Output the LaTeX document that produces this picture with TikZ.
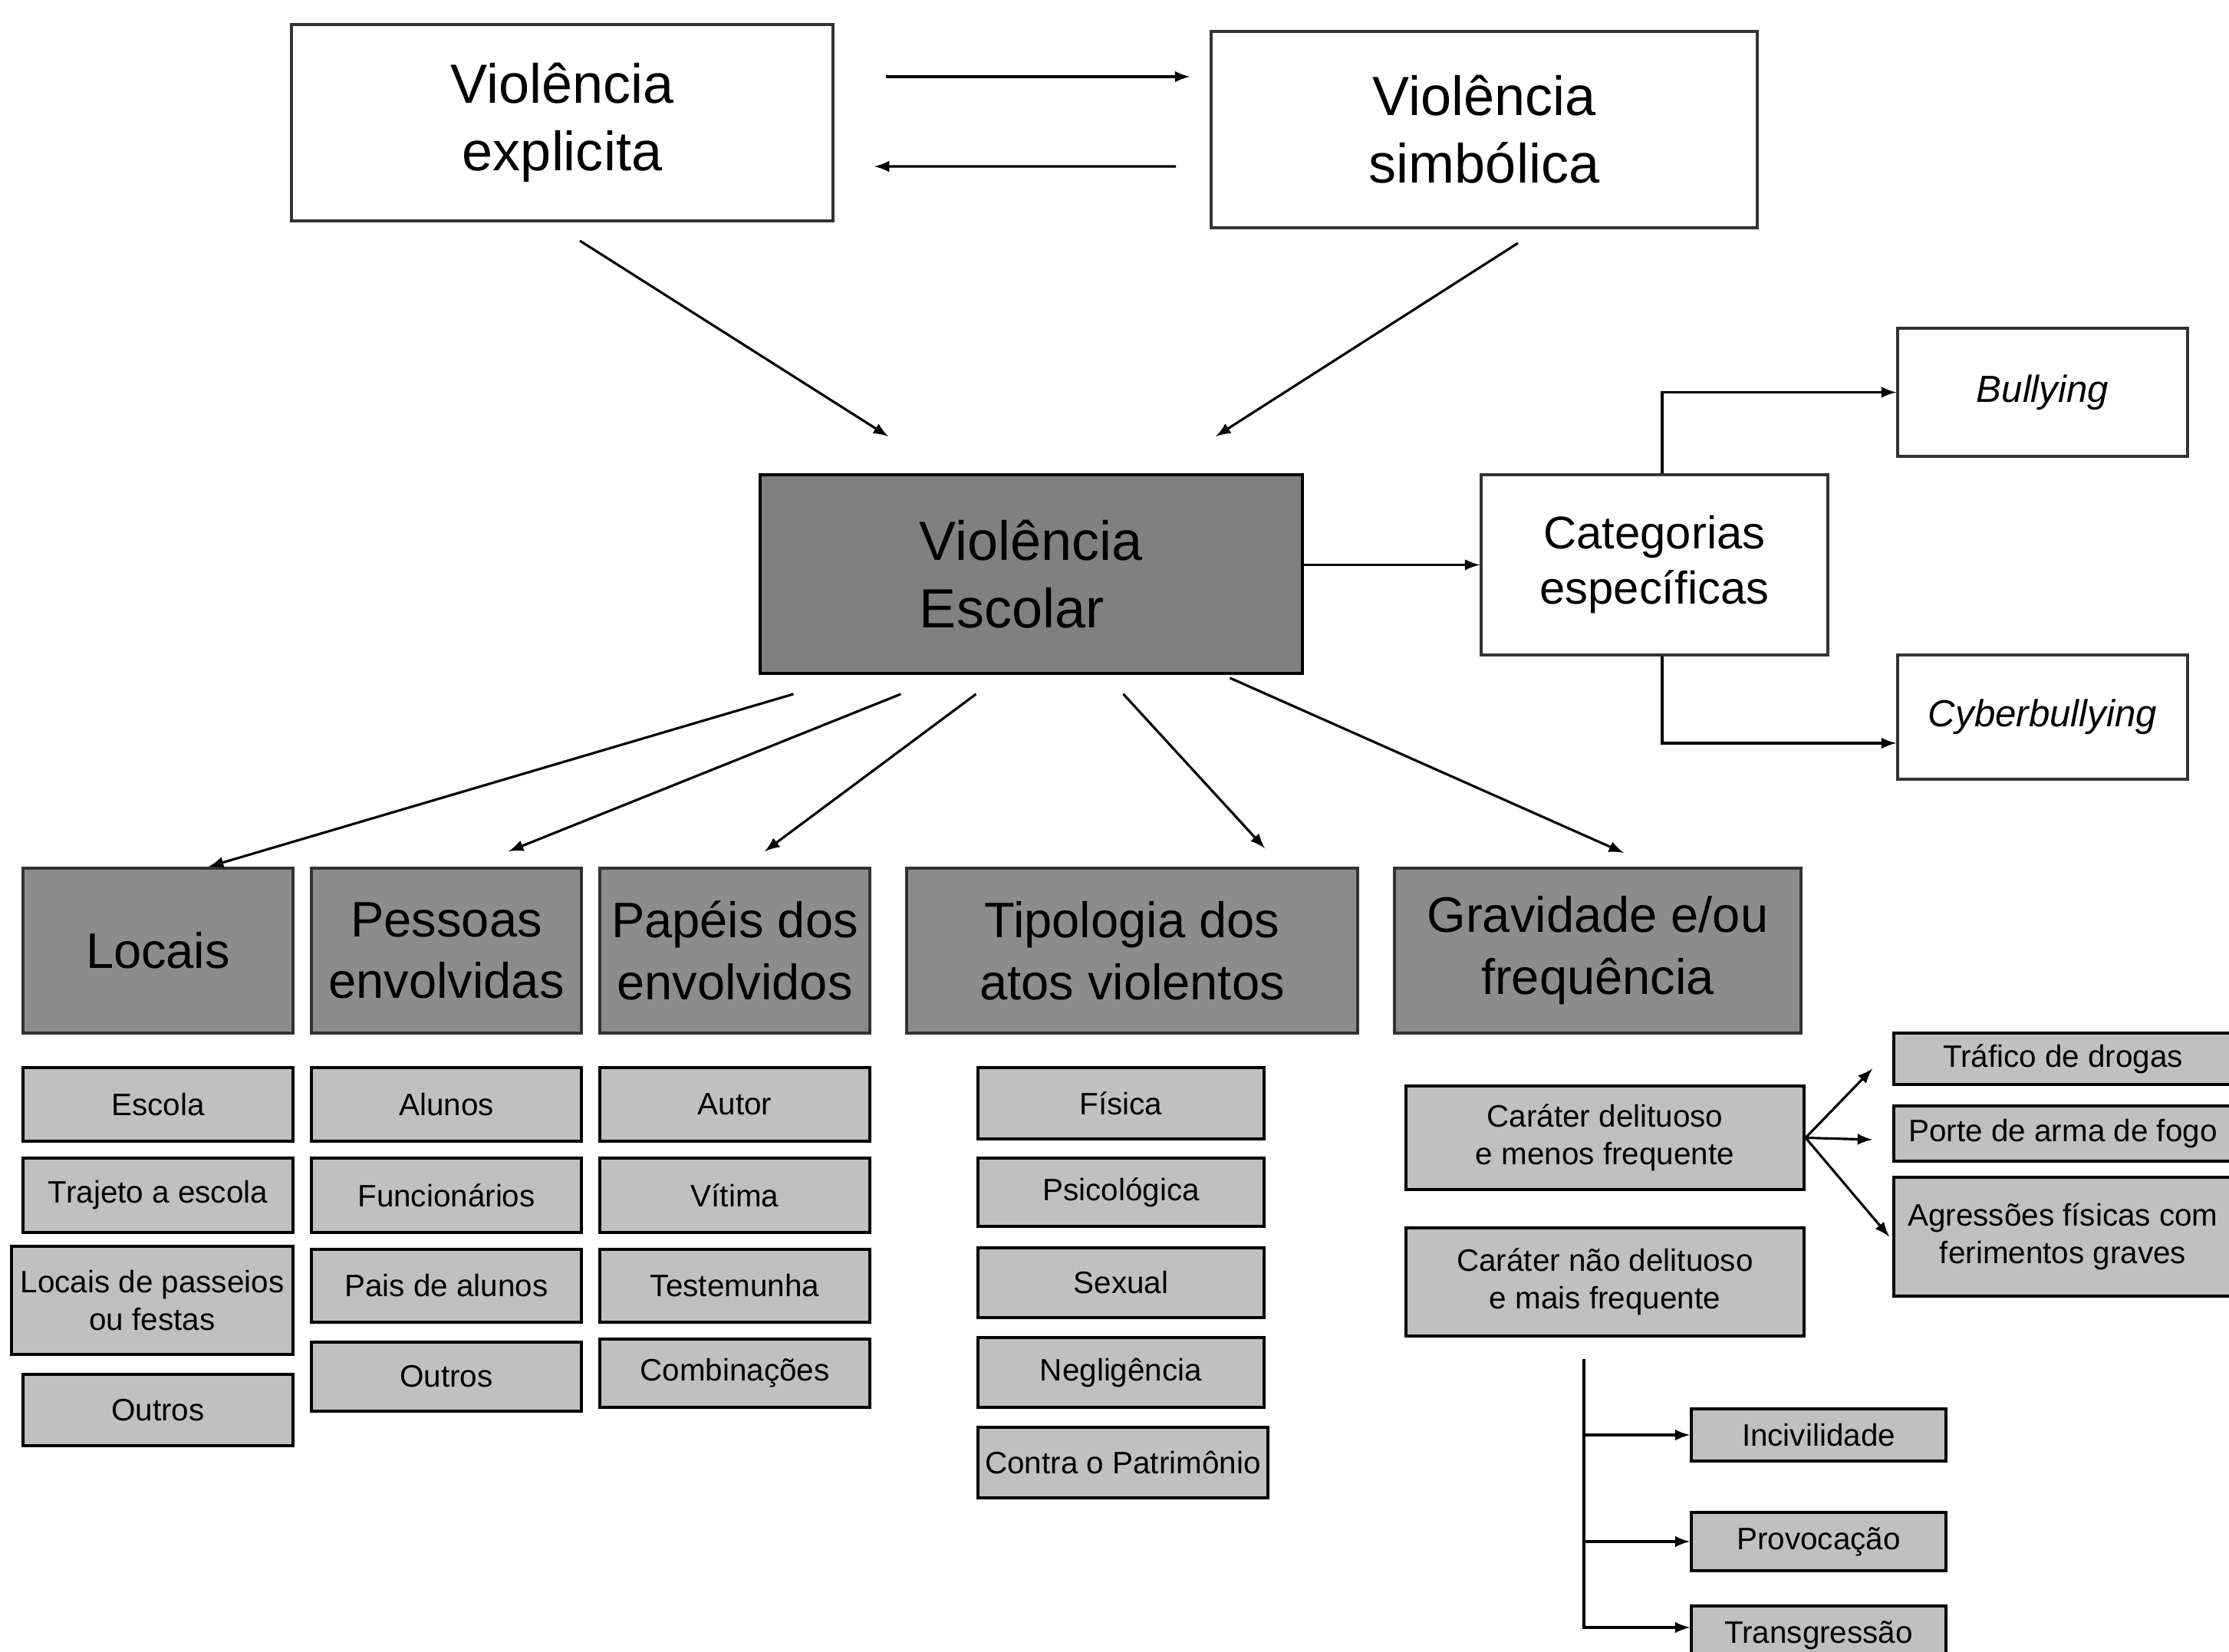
\documentclass[tikz,border=0pt]{standalone}
\usepackage{fontspec}
\setmainfont{Liberation Sans}
\usepackage{tikz}
\usetikzlibrary{arrows}

\definecolor{cinzaescuro}{HTML}{808080}
\definecolor{cinzamedio}{HTML}{8C8C8C}
\definecolor{cinzaclaro}{HTML}{C0C0C0}
\definecolor{borda}{HTML}{333333}

\tikzset{
	caixa/.style={shape=rectangle, draw=borda, line width=1.1pt, align=center, inner sep=0pt},
	branca/.style={caixa, fill=white},
	central/.style={caixa, draw=black, fill=cinzaescuro, minimum width=7.07cm, minimum height=2.59cm, font=\fontsize{20.5}{25}\selectfont},
	titulo/.style={caixa, fill=cinzamedio, minimum height=2.15cm, font=\fontsize{18.5}{23}\selectfont},
	item/.style={caixa, draw=black, fill=cinzaclaro, font=\fontsize{11.5}{14}\selectfont},
	seta/.style={-latex, line width=0.9pt}
}

\begin{document}
\begin{tikzpicture}
		\useasboundingbox (0,0) rectangle (29.06,-21.54);
		% Topo e centro:
		\node[branca, minimum width=7.06cm, minimum height=2.56cm, font=\fontsize{20.5}{25}\selectfont](Expl) at (7.33,-1.60){Violência\\explicita};
		\node[branca, minimum width=7.12cm, minimum height=2.56cm, font=\fontsize{20.5}{25}\selectfont](Simb) at (19.35,-1.69){Violência\\simbólica};
		\node[central, align=left](Esc) at (13.445,-7.485){Violência\\Escolar};
		\node[branca, minimum width=4.52cm, minimum height=2.35cm, font=\fontsize{17}{20.5}\selectfont](Cat) at (21.57,-7.365){Categorias\\específicas};
		\node[branca, minimum width=3.78cm, minimum height=1.67cm, font=\fontsize{14}{17}\selectfont\itshape](Bul) at (26.63,-5.115){Bullying};
		\node[branca, minimum width=3.78cm, minimum height=1.62cm, font=\fontsize{14}{17}\selectfont\itshape](Cyb) at (26.63,-9.35){Cyberbullying};
		\draw[seta] ([shift={(0.67,0.6)}]Expl.east) -- ([shift={(-0.26,0.69)}]Simb.west);
		\draw[seta] ([shift={(-0.44,-0.48)}]Simb.west) -- ([shift={(0.52,-0.57)}]Expl.east);
		\draw[seta] ([shift={(0.23,-0.24)}]Expl.south) -- ([shift={(-1.865,0.48)}]Esc.north);
		\draw[seta] ([shift={(0.44,-0.18)}]Simb.south) -- ([shift={(2.405,0.48)}]Esc.north);
		\draw[seta] (Esc.east |- Cat.west) -- (Cat.west);
		\draw[seta] ([xshift=0.1cm]Cat.north) |- (Bul.west);
		\draw[seta] ([xshift=0.1cm]Cat.south) |- ([yshift=-0.34cm]Cyb.west);
		% Dimensoes:
		\node[titulo, minimum width=3.52cm](Loc) at (2.06,-12.395){Locais};
		\node[titulo, minimum width=3.52cm](Pes) at (5.82,-12.395){Pessoas\\envolvidas};
		\node[titulo, minimum width=3.52cm](Pap) at (9.58,-12.395){Papéis dos\\envolvidos};
		\node[titulo, minimum width=5.88cm](Tip) at (14.76,-12.395){Tipologia dos\\atos violentos};
		\node[titulo, minimum width=5.30cm](Grav) at (20.83,-12.395){Gravidade e/ou\\frequência};
		\draw[seta] ([shift={(-3.1,-0.25)}]Esc.south) -- ([shift={(0.66,0)}]Loc.north);
		\draw[seta] ([shift={(-1.7,-0.25)}]Esc.south) -- ([shift={(0.81,0.2)}]Pes.north);
		\draw[seta] ([shift={(-0.72,-0.25)}]Esc.south) -- ([shift={(0.39,0.2)}]Pap.north);
		\draw[seta] ([shift={(1.2,-0.25)}]Esc.south) -- ([shift={(1.73,0.24)}]Tip.north);
		\draw[seta] ([shift={(2.59,-0.04)}]Esc.south) -- ([shift={(0.34,0.18)}]Grav.north);
		% Locais:
		\node[item, minimum width=3.52cm, minimum height=0.96cm](Escola) at (2.06,-14.40){Escola};
		\node[item, minimum width=3.52cm, minimum height=0.97cm](Trajeto) at (2.06,-15.585){Trajeto a escola};
		\node[item, minimum width=3.67cm, minimum height=1.41cm](Passeios) at (1.985,-16.955){Locais de passeios\\ou festas};
		\node[item, minimum width=3.52cm, minimum height=0.93cm](OutrosLoc) at (2.06,-18.385){Outros};
		% Pessoas:
		\node[item, minimum width=3.52cm, minimum height=0.96cm](Alunos) at (5.82,-14.40){Alunos};
		\node[item, minimum width=3.52cm, minimum height=0.97cm](Func) at (5.82,-15.585){Funcionários};
		\node[item, minimum width=3.52cm, minimum height=0.95cm](Pais) at (5.82,-16.765){Pais de alunos};
		\node[item, minimum width=3.52cm, minimum height=0.90cm](OutrosPes) at (5.82,-17.95){Outros};
		% Papeis:
		\node[item, minimum width=3.52cm, minimum height=0.96cm](Autor) at (9.58,-14.40){Autor};
		\node[item, minimum width=3.52cm, minimum height=0.97cm](Vitima) at (9.58,-15.585){Vítima};
		\node[item, minimum width=3.52cm, minimum height=0.95cm](Testem) at (9.58,-16.765){Testemunha};
		\node[item, minimum width=3.52cm, minimum height=0.89cm](Comb) at (9.58,-17.905){Combinações};
		% Tipologia:
		\node[item, minimum width=3.73cm, minimum height=0.93cm](Fisica) at (14.615,-14.385){Física};
		\node[item, minimum width=3.73cm, minimum height=0.89cm](Psico) at (14.615,-15.545){Psicológica};
		\node[item, minimum width=3.73cm, minimum height=0.91cm](Sexual) at (14.615,-16.725){Sexual};
		\node[item, minimum width=3.73cm, minimum height=0.91cm](Neglig) at (14.615,-17.895){Negligência};
		\node[item, minimum width=3.78cm, minimum height=0.92cm](Patrim) at (14.64,-19.07){Contra o Patrimônio};
		% Gravidade:
		\node[item, minimum width=5.19cm, minimum height=1.35cm](Delit) at (20.925,-14.835){Caráter delituoso\\e menos frequente};
		\node[item, minimum width=5.19cm, minimum height=1.41cm](NaoDel) at (20.925,-16.715){Caráter não delituoso\\e mais frequente};
		\node[item, minimum width=4.41cm, minimum height=0.67cm](Traf) at (26.895,-13.805){Tráfico de drogas};
		\node[item, minimum width=4.41cm, minimum height=0.72cm](Porte) at (26.895,-14.78){Porte de arma de fogo};
		\node[item, minimum width=4.41cm, minimum height=1.55cm](Agr) at (26.895,-16.125){Agressões físicas com\\ferimentos graves};
		\node[item, minimum width=3.32cm, minimum height=0.68cm](Inciv) at (23.71,-18.71){Incivilidade};
		\node[item, minimum width=3.32cm, minimum height=0.76cm](Provoc) at (23.71,-20.10){Provocação};
		\node[item, minimum width=3.32cm, minimum height=0.76cm](Transg) at (23.71,-21.32){Transgressão};
		\draw[seta] (Delit.east) -- ([shift={(-0.26,-0.13)}]Traf.west);
		\draw[seta] (Delit.east) -- ([shift={(-0.26,-0.08)}]Porte.west);
		\draw[seta] (Delit.east) -- ([shift={(-0.04,0)}]Agr.west);
		\coordinate (Tronco) at ([xshift=-0.275cm,yshift=-0.28cm]NaoDel.south);
		\draw[seta] (Tronco) |- (Inciv.west);
		\draw[seta] (Tronco) |- (Provoc.west);
		\draw[seta] (Tronco) |- ([yshift=0.1cm]Transg.west);
	\end{tikzpicture}
\end{document}
